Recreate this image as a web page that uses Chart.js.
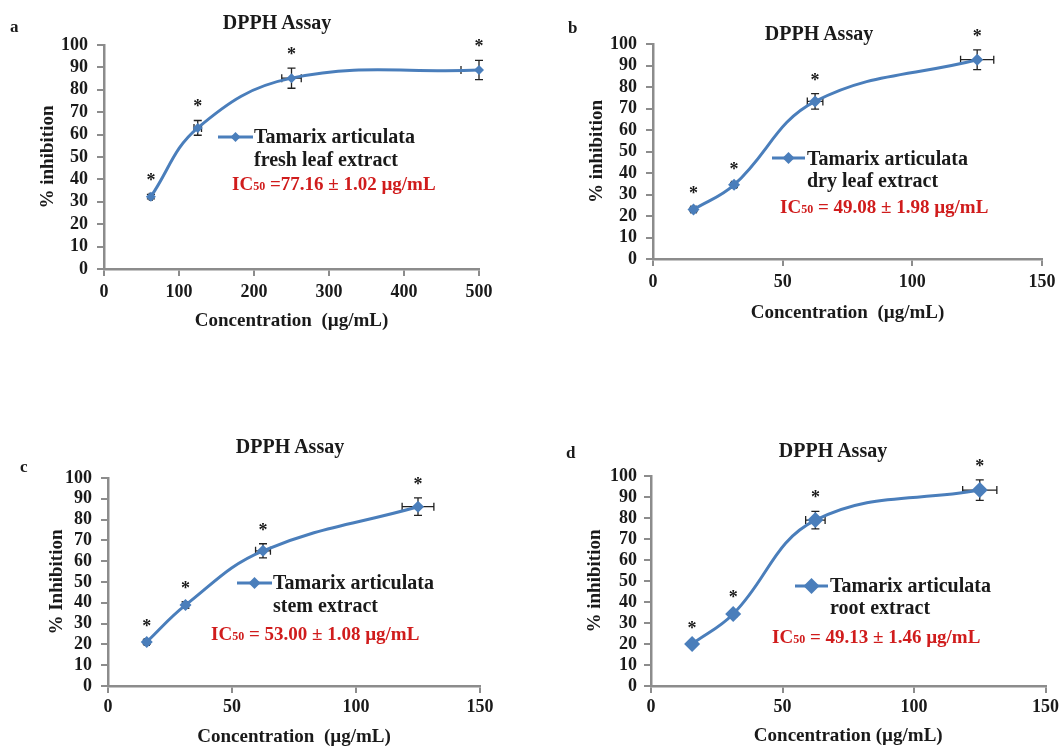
<!DOCTYPE html>
<html>
<head>
<meta charset="utf-8">
<script src="https://cdn.jsdelivr.net/npm/chart.js@4.4.1/dist/chart.umd.min.js"></script>
<style>
  html, body { margin: 0; padding: 0; background: #fff; }
  #page { position: relative; width: 1063px; height: 748px; overflow: hidden;
    font-family: "Liberation Serif", "Times New Roman", serif; font-weight: bold; color: #1a1a1a; }
  #page canvas { position: absolute; }
  .txt { position: absolute; white-space: nowrap; line-height: 1; }
  .title { font-size: 20px; width: 200px; text-align: center; }
  .letter { font-size: 17px; }
  .leg { font-size: 20px; }
  .ic { font-size: 19px; color: #d01c1c; }
  .ic span { font-size: 12px; }
</style>
</head>
<body>
<div id="page"></div>
<script>
// concentrations (µg/mL)
const concA = [62.5, 125, 250, 500];
const concBCD = [15.625, 31.25, 62.5, 125];

// % inhibition
const inhibA = [32.3, 63.0, 85.2, 88.8];
const inhibB = [23.0, 34.5, 73.3, 92.7];
const inhibC = [21.2, 38.9, 65.0, 86.2];
const inhibD = [20.0, 34.3, 79.0, 93.3];

// error bars (y = % inhibition, x = concentration)
const errYA = [1.0, 3.3, 4.5, 4.3];
const errXA = [2, 5, 13, 24];
const errYB = [1.0, 1.0, 3.6, 4.6];
const errXB = [1, 1, 3, 6.4];
const errYC = [1.0, 1.5, 3.4, 4.2];
const errXC = [1, 1, 3, 6.4];
const errYD = [1.0, 1.5, 4.2, 4.9];
const errXD = [1, 1, 3.7, 6.5];

// axis ticks
const yTicks = [0, 10, 20, 30, 40, 50, 60, 70, 80, 90, 100];
const xTicksA = [0, 100, 200, 300, 400, 500];
const xTicksBCD = [0, 50, 100, 150];

const FONT = "Liberation Serif";
const BLUE = "#4a7ebb";
const AXIS = "#8c8c8c";
const INK = "#1a1a1a";

const panels = [
  {
    letter: "a", conc: concA, inhib: inhibA, errY: errYA, errX: errXA, xTicks: xTicksA,
    extract: "fresh leaf extract", ic: ["IC", "50", " =77.16 ± 1.02 µg/mL"],
    yTitle: "% inhibition", xTitle: "Concentration  (µg/mL)",
    left: 0, top: 0, w: 530, h: 335, plotLeft: 104, plotTop: 45, padR: 51, xH: 66,
    yTickPad: 9, xTickPad: 6, yTitlePad: 37, xTitlePad: 3, radius: 5,
    titleAt: [277, 29], letterAt: [10, 32],
    legLine: [218, 253, 137], legText: [254, 143, 166], icAt: [232, 190]
  },
  {
    letter: "b", conc: concBCD, inhib: inhibB, errY: errYB, errX: errXB, xTicks: xTicksBCD,
    extract: "dry leaf extract", ic: ["IC", "50", " = 49.08 ± 1.98 µg/mL"],
    yTitle: "% inhibition", xTitle: "Concentration  (µg/mL)",
    left: 540, top: 0, w: 523, h: 330, plotLeft: 113, plotTop: 44, padR: 21, xH: 71,
    yTickPad: 9, xTickPad: 6, yTitlePad: 46, xTitlePad: 6, radius: 6,
    titleAt: [819, 40], letterAt: [568, 33],
    legLine: [772, 805, 158], legText: [807, 165, 187], icAt: [780, 213]
  },
  {
    letter: "c", conc: concBCD, inhib: inhibC, errY: errYC, errX: errXC, xTicks: xTicksBCD,
    extract: "stem extract", ic: ["IC", "50", " = 53.00 ± 1.08 µg/mL"],
    yTitle: "% Inhibition", xTitle: "Concentration  (µg/mL)",
    left: 0, top: 430, w: 530, h: 318, plotLeft: 108, plotTop: 48, padR: 50, xH: 62,
    yTickPad: 9, xTickPad: 4, yTitlePad: 46, xTitlePad: 0, radius: 6,
    titleAt: [290, 453], letterAt: [20, 472],
    legLine: [237, 272, 583], legText: [273, 589, 612], icAt: [211, 640]
  },
  {
    letter: "d", conc: concBCD, inhib: inhibD, errY: errYD, errX: errXD, xTicks: xTicksBCD,
    extract: "root extract", ic: ["IC", "50", " = 49.13 ± 1.46 µg/mL"],
    yTitle: "% inhibition", xTitle: "Concentration (µg/mL)",
    left: 540, top: 430, w: 523, h: 318, plotLeft: 111, plotTop: 46, padR: 16, xH: 62,
    yTickPad: 7, xTickPad: 4, yTitlePad: 44, xTitlePad: 1, radius: 8,
    titleAt: [833, 457], letterAt: [566, 458],
    legLine: [795, 828, 586], legText: [830, 592, 614], icAt: [772, 643]
  }
];

const page = document.getElementById("page");

const addText = (cls, html, left, baseline, size) => {
  const el = document.createElement("div");
  el.className = "txt " + cls;
  el.innerHTML = html;
  el.style.left = left + "px";
  el.style.top = (baseline - Math.round(size * 0.8375)) + "px";
  page.appendChild(el);
  return el;
};

const diamond = (ctx, cx, cy, r) => {
  ctx.beginPath();
  ctx.moveTo(cx, cy - r);
  ctx.lineTo(cx + r, cy);
  ctx.lineTo(cx, cy + r);
  ctx.lineTo(cx - r, cy);
  ctx.closePath();
  ctx.fill();
};

// error bars under the markers, asterisks and legend key on top
const makeAnnot = (p) => ({
  id: "annot" + p.letter,
  beforeDatasetsDraw(chart) {
    const { ctx, scales: { x, y } } = chart;
    ctx.save();
    ctx.strokeStyle = "#222";
    ctx.lineWidth = 1.3;
    ctx.beginPath();
    p.conc.forEach((c, i) => {
      const v = p.inhib[i];
      const px = x.getPixelForValue(c);
      const py = y.getPixelForValue(v);
      const yt = y.getPixelForValue(v + p.errY[i]);
      const yb = y.getPixelForValue(v - p.errY[i]);
      ctx.moveTo(px, yt); ctx.lineTo(px, yb);
      ctx.moveTo(px - 4, yt); ctx.lineTo(px + 4, yt);
      ctx.moveTo(px - 4, yb); ctx.lineTo(px + 4, yb);
      const hi = c + p.errX[i];
      const xl = x.getPixelForValue(c - p.errX[i]);
      const xr = x.getPixelForValue(Math.min(hi, x.max));
      ctx.moveTo(xl, py); ctx.lineTo(xr, py);
      ctx.moveTo(xl, py - 4); ctx.lineTo(xl, py + 4);
      if (hi <= x.max) { ctx.moveTo(xr, py - 4); ctx.lineTo(xr, py + 4); }
    });
    ctx.stroke();
    ctx.restore();
  },
  afterDatasetsDraw(chart) {
    const { ctx, scales: { x, y } } = chart;
    ctx.save();
    ctx.fillStyle = INK;
    ctx.font = "bold 18px '" + FONT + "'";
    ctx.textAlign = "center";
    ctx.textBaseline = "alphabetic";
    p.conc.forEach((c, i) => {
      const px = x.getPixelForValue(c);
      const top = y.getPixelForValue(p.inhib[i] + p.errY[i]);
      ctx.fillText("*", px, top - 8);
    });
    // legend key
    const [x1, x2, ly] = p.legLine;
    ctx.strokeStyle = BLUE;
    ctx.fillStyle = BLUE;
    ctx.lineWidth = 3;
    ctx.beginPath();
    ctx.moveTo(x1 - p.left, ly - p.top);
    ctx.lineTo(x2 - p.left, ly - p.top);
    ctx.stroke();
    diamond(ctx, (x1 + x2) / 2 - p.left, ly - p.top, p.radius);
    ctx.restore();
  }
});

const makePanel = (p) => {
  const canvas = document.createElement("canvas");
  canvas.width = p.w;
  canvas.height = p.h;
  canvas.style.left = p.left + "px";
  canvas.style.top = p.top + "px";
  page.appendChild(canvas);

  const tickFont = { family: FONT, size: 18, weight: "bold" };
  const titleFont = { family: FONT, size: 19, weight: "bold" };
  const grid = { drawOnChartArea: false, drawTicks: true, tickLength: 7, color: AXIS, lineWidth: 2 };
  const border = { color: AXIS, width: 2.5 };

  new Chart(canvas, {
    type: "scatter",
    data: {
      datasets: [{
        data: p.conc.map((c, i) => ({ x: c, y: p.inhib[i] })),
        showLine: true,
        tension: 0.4,
        borderColor: BLUE,
        backgroundColor: BLUE,
        borderWidth: 3,
        pointStyle: "rectRot",
        pointRadius: p.radius,
        pointBorderWidth: 0,
        clip: false
      }]
    },
    options: {
      responsive: false,
      animation: false,
      devicePixelRatio: 1,
      layout: { padding: { left: 0, top: p.plotTop, right: p.padR, bottom: 0 } },
      plugins: { legend: { display: false }, tooltip: { enabled: false } },
      scales: {
        x: {
          type: "linear",
          min: 0,
          max: p.xTicks[p.xTicks.length - 1],
          afterBuildTicks: (s) => { s.ticks = p.xTicks.map((v) => ({ value: v })); },
          afterFit: (s) => { s.height = p.xH; },
          grid: grid,
          border: border,
          ticks: { color: INK, font: tickFont, padding: p.xTickPad, maxRotation: 0, autoSkip: false },
          title: { display: true, text: p.xTitle, color: INK, font: titleFont,
                   padding: { top: 0, bottom: p.xTitlePad } }
        },
        y: {
          min: 0,
          max: 100,
          afterBuildTicks: (s) => { s.ticks = yTicks.map((v) => ({ value: v })); },
          afterFit: (s) => { s.width = p.plotLeft; },
          grid: grid,
          border: border,
          ticks: { color: INK, font: tickFont, padding: p.yTickPad, autoSkip: false },
          title: { display: true, text: p.yTitle, color: INK, font: titleFont,
                   padding: { top: p.yTitlePad, bottom: 0 } }
        }
      }
    },
    plugins: [makeAnnot(p)]
  });

  addText("title", "DPPH Assay", p.titleAt[0] - 100, p.titleAt[1], 20);
  addText("letter", p.letter, p.letterAt[0], p.letterAt[1], 17);
  addText("leg", "Tamarix articulata", p.legText[0], p.legText[1], 20);
  addText("leg", p.extract, p.legText[0], p.legText[2], 20);
  addText("ic", p.ic[0] + "<span>" + p.ic[1] + "</span>" + p.ic[2], p.icAt[0], p.icAt[1], 19);
};

panels.forEach(makePanel);
</script>
</body>
</html>
